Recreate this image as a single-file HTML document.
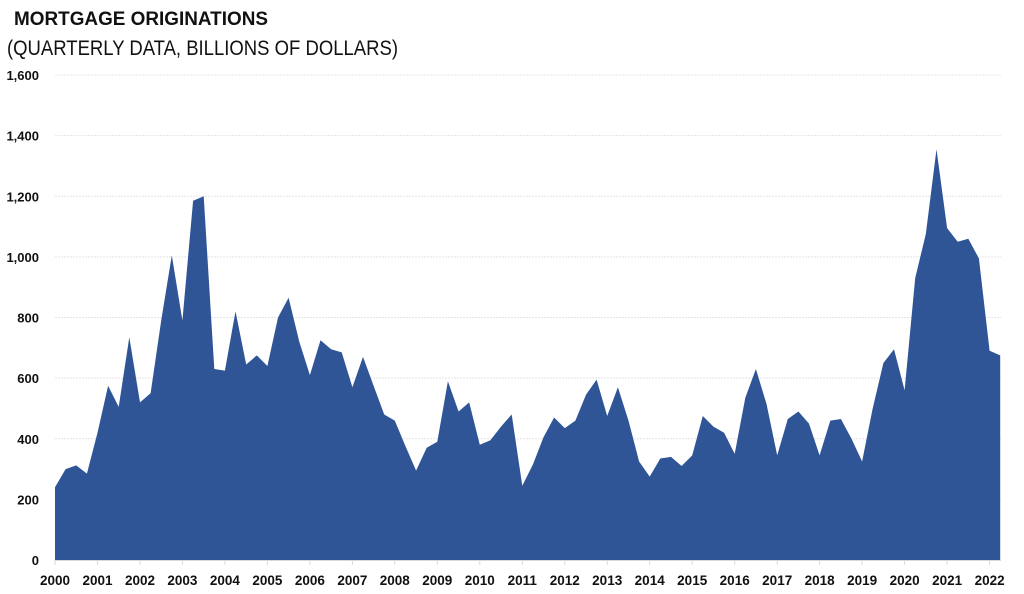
<!DOCTYPE html>
<html><head><meta charset="utf-8"><style>
html,body{margin:0;padding:0;background:#fff;}
svg{display:block;}
</style></head><body>
<svg width="1024" height="594" viewBox="0 0 1024 594" xmlns="http://www.w3.org/2000/svg" font-family="'Liberation Sans', Arial, sans-serif">
<text x="14" y="25" font-size="19" font-weight="bold" fill="#111" textLength="254" lengthAdjust="spacingAndGlyphs">MORTGAGE ORIGINATIONS</text>
<text x="7" y="55" font-size="21" fill="#111" textLength="391" lengthAdjust="spacingAndGlyphs">(QUARTERLY DATA, BILLIONS OF DOLLARS)</text>
<g stroke="#e4e4e4" stroke-width="1" stroke-dasharray="2,1">
<line x1="55" x2="1001" y1="75" y2="75"/>
<line x1="55" x2="1001" y1="135.6" y2="135.6"/>
<line x1="55" x2="1001" y1="196.3" y2="196.3"/>
<line x1="55" x2="1001" y1="256.9" y2="256.9"/>
<line x1="55" x2="1001" y1="317.5" y2="317.5"/>
<line x1="55" x2="1001" y1="378.1" y2="378.1"/>
<line x1="55" x2="1001" y1="438.8" y2="438.8"/>
<line x1="55" x2="1001" y1="499.4" y2="499.4"/>
</g>
<polygon fill="#2f5597" points="55,560 55.0,487.3 65.6,469.1 76.2,465.4 86.9,473.6 97.5,432.7 108.1,385.7 118.7,406.9 129.3,337.2 140.0,402.4 150.6,393.3 161.2,320.5 171.8,255.4 182.4,320.5 193.1,200.8 203.7,196.3 214.3,369.0 224.9,370.6 235.5,311.4 246.2,364.5 256.8,355.4 267.4,366.0 278.0,317.5 288.6,297.8 299.3,341.8 309.9,375.1 320.5,340.2 331.1,349.3 341.7,352.4 352.4,387.2 363.0,356.9 373.6,385.7 384.2,414.5 394.8,420.6 405.5,446.3 416.1,470.6 426.7,447.8 437.3,441.8 447.9,381.2 458.6,411.5 469.2,402.4 479.8,444.8 490.4,440.3 501.0,426.6 511.7,414.5 522.3,485.7 532.9,464.5 543.5,437.2 554.1,417.5 564.8,428.1 575.4,420.6 586.0,394.8 596.6,379.6 607.2,416.0 617.9,387.2 628.5,420.6 639.1,461.5 649.7,476.6 660.3,458.5 671.0,456.9 681.6,466.0 692.2,455.4 702.8,416.0 713.4,426.6 724.1,432.7 734.7,453.9 745.3,397.8 755.9,369.0 766.5,403.9 777.2,455.4 787.8,419.0 798.4,411.5 809.0,423.6 819.6,455.4 830.3,420.6 840.9,419.0 851.5,438.8 862.1,461.5 872.7,408.4 883.4,363.0 894.0,349.3 904.6,390.3 915.2,278.1 925.8,234.1 936.5,149.3 947.1,228.1 957.7,241.7 968.3,238.7 978.9,258.4 989.6,350.8 1000.2,355.4 1000.2,560"/>
<line x1="55" x2="1001" y1="560.5" y2="560.5" stroke="#d9d9d9" stroke-width="1"/>
<g stroke="#d9d9d9" stroke-width="1">
<line x1="55" x2="55" y1="560" y2="565"/><line x1="97.5" x2="97.5" y1="560" y2="565"/><line x1="140" x2="140" y1="560" y2="565"/><line x1="182.4" x2="182.4" y1="560" y2="565"/><line x1="224.9" x2="224.9" y1="560" y2="565"/><line x1="267.4" x2="267.4" y1="560" y2="565"/><line x1="309.9" x2="309.9" y1="560" y2="565"/><line x1="352.4" x2="352.4" y1="560" y2="565"/><line x1="394.8" x2="394.8" y1="560" y2="565"/><line x1="437.3" x2="437.3" y1="560" y2="565"/><line x1="479.8" x2="479.8" y1="560" y2="565"/><line x1="522.3" x2="522.3" y1="560" y2="565"/><line x1="564.8" x2="564.8" y1="560" y2="565"/><line x1="607.2" x2="607.2" y1="560" y2="565"/><line x1="649.7" x2="649.7" y1="560" y2="565"/><line x1="692.2" x2="692.2" y1="560" y2="565"/><line x1="734.7" x2="734.7" y1="560" y2="565"/><line x1="777.2" x2="777.2" y1="560" y2="565"/><line x1="819.6" x2="819.6" y1="560" y2="565"/><line x1="862.1" x2="862.1" y1="560" y2="565"/><line x1="904.6" x2="904.6" y1="560" y2="565"/><line x1="947.1" x2="947.1" y1="560" y2="565"/><line x1="989.6" x2="989.6" y1="560" y2="565"/>
</g>
<g font-size="13" font-weight="bold" fill="#111" text-anchor="end">
<text x="39" y="80">1,600</text>
<text x="39" y="140.6">1,400</text>
<text x="39" y="201.3">1,200</text>
<text x="39" y="261.9">1,000</text>
<text x="39" y="322.5">800</text>
<text x="39" y="383.1">600</text>
<text x="39" y="443.8">400</text>
<text x="39" y="504.4">200</text>
<text x="39" y="565">0</text>
</g>
<g font-size="13.5" font-weight="bold" fill="#111" text-anchor="middle">
<text x="55" y="585">2000</text><text x="97.5" y="585">2001</text><text x="140" y="585">2002</text><text x="182.4" y="585">2003</text><text x="224.9" y="585">2004</text><text x="267.4" y="585">2005</text><text x="309.9" y="585">2006</text><text x="352.4" y="585">2007</text><text x="394.8" y="585">2008</text><text x="437.3" y="585">2009</text><text x="479.8" y="585">2010</text><text x="522.3" y="585">2011</text><text x="564.8" y="585">2012</text><text x="607.2" y="585">2013</text><text x="649.7" y="585">2014</text><text x="692.2" y="585">2015</text><text x="734.7" y="585">2016</text><text x="777.2" y="585">2017</text><text x="819.6" y="585">2018</text><text x="862.1" y="585">2019</text><text x="904.6" y="585">2020</text><text x="947.1" y="585">2021</text><text x="989.6" y="585">2022</text>
</g>
</svg>
</body></html>
